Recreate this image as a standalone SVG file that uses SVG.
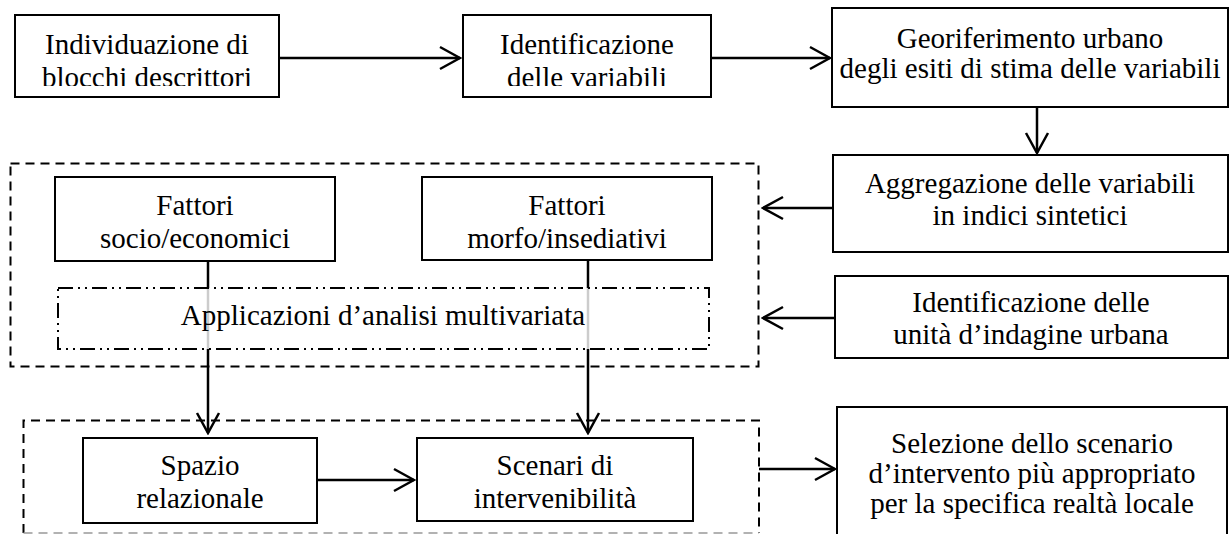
<svg xmlns="http://www.w3.org/2000/svg" width="1230" height="534" viewBox="0 0 1230 534">
  <style>
    .box { fill: #fff; stroke: #000; stroke-width: 2; }
    .lbl { font-family: "Liberation Serif", "Times New Roman", serif; font-size: 29px; fill: #000; text-anchor: middle; }
    .wire { fill: none; stroke: #000; stroke-width: 2.5; }
    .dash { fill: none; stroke: #000; stroke-width: 2; stroke-dasharray: 9 6; }
    .dashdot { fill: #fff; fill-opacity: 0.8; stroke: #000; stroke-width: 2; stroke-dasharray: 15 5 2 5 2 5; }
  </style>
  <defs>
    <marker id="arrow" viewBox="0 0 24 26" refX="22" refY="13" markerWidth="24" markerHeight="26" markerUnits="userSpaceOnUse" orient="auto">
      <path d="M2,2 L22,13 L2,24" fill="none" stroke="#000" stroke-width="2.5"/>
    </marker>
    <clipPath id="clipTop1"><rect x="15" y="15" width="264" height="71"/></clipPath>
    <clipPath id="clipTop2"><rect x="463" y="15" width="248" height="71"/></clipPath>
  </defs>
  <rect width="1230" height="534" fill="#fff"/>

  <!-- grouping frames -->
  <g id="group-analysis">
    <rect x="10.5" y="163.5" width="748" height="203" class="dash"/>
  </g>
  <g id="group-scenarios">
    <path d="M23.5,533 V420.5 H759 V533" class="dash"/>
    <line x1="23.5" y1="533" x2="759" y2="533" stroke="#999" stroke-width="1.6" stroke-dasharray="9 6"/>
  </g>

  <!-- connectors -->
  <g id="connectors">
    <line x1="279" y1="58" x2="460" y2="58" class="wire" marker-end="url(#arrow)"/>
    <line x1="711" y1="58" x2="830" y2="58" class="wire" marker-end="url(#arrow)"/>
    <line x1="1037" y1="107" x2="1037" y2="153" class="wire" marker-end="url(#arrow)"/>
    <line x1="833" y1="208" x2="763" y2="208" class="wire" marker-end="url(#arrow)"/>
    <line x1="835" y1="318" x2="763" y2="318" class="wire" marker-end="url(#arrow)"/>
    <line x1="208" y1="261" x2="208" y2="433" class="wire" marker-end="url(#arrow)"/>
    <line x1="588" y1="260" x2="588" y2="433" class="wire" marker-end="url(#arrow)"/>
    <line x1="317" y1="480" x2="414" y2="480" class="wire" marker-end="url(#arrow)"/>
    <line x1="759" y1="469" x2="835" y2="469" class="wire" marker-end="url(#arrow)"/>
  </g>

  <g id="node-blocchi">
    <rect x="15" y="15" width="264" height="82" class="box"/>
    <g clip-path="url(#clipTop1)">
      <text class="lbl" x="147" y="54">Individuazione di</text>
      <text class="lbl" x="147" y="87">blocchi descrittori</text>
    </g>
  </g>

  <g id="node-variabili">
    <rect x="463" y="15" width="248" height="82" class="box"/>
    <g clip-path="url(#clipTop2)">
      <text class="lbl" x="587" y="54">Identificazione</text>
      <text class="lbl" x="587" y="87">delle variabili</text>
    </g>
  </g>

  <g id="node-georiferimento">
    <rect x="832" y="8" width="396" height="99" class="box"/>
    <text class="lbl" x="1030" y="48">Georiferimento urbano</text>
    <text class="lbl" x="1030" y="78">degli esiti di stima delle variabili</text>
  </g>

  <g id="node-aggregazione">
    <rect x="833" y="155" width="395" height="97" class="box"/>
    <text class="lbl" x="1030" y="193">Aggregazione delle variabili</text>
    <text class="lbl" x="1030" y="225">in indici sintetici</text>
  </g>

  <g id="node-unita">
    <rect x="835" y="276" width="393" height="82" class="box"/>
    <text class="lbl" x="1031" y="312">Identificazione delle</text>
    <text class="lbl" x="1031" y="344">unità d’indagine urbana</text>
  </g>

  <g id="node-socio">
    <rect x="55" y="177" width="280" height="84" class="box"/>
    <text class="lbl" x="195" y="215">Fattori</text>
    <text class="lbl" x="195" y="248">socio/economici</text>
  </g>

  <g id="node-morfo">
    <rect x="422" y="177" width="290" height="83" class="box"/>
    <text class="lbl" x="567" y="215">Fattori</text>
    <text class="lbl" x="567" y="248">morfo/insediativi</text>
  </g>

  <g id="node-multivariata">
    <rect x="58" y="288" width="651" height="61" class="dashdot"/>
    <text class="lbl" x="383" y="325">Applicazioni d’analisi multivariata</text>
  </g>

  <g id="node-spazio">
    <rect x="83" y="438" width="234" height="85" class="box"/>
    <text class="lbl" x="200" y="475">Spazio</text>
    <text class="lbl" x="200" y="508">relazionale</text>
  </g>

  <g id="node-scenari">
    <rect x="417" y="438" width="276" height="83" class="box"/>
    <text class="lbl" x="555" y="475">Scenari di</text>
    <text class="lbl" x="555" y="508">intervenibilità</text>
  </g>

  <g id="node-selezione">
    <rect x="837" y="407" width="390" height="140" class="box"/>
    <text class="lbl" x="1032" y="453">Selezione dello scenario</text>
    <text class="lbl" x="1032" y="483">d’intervento più appropriato</text>
    <text class="lbl" x="1032" y="513">per la specifica realtà locale</text>
  </g>
</svg>
